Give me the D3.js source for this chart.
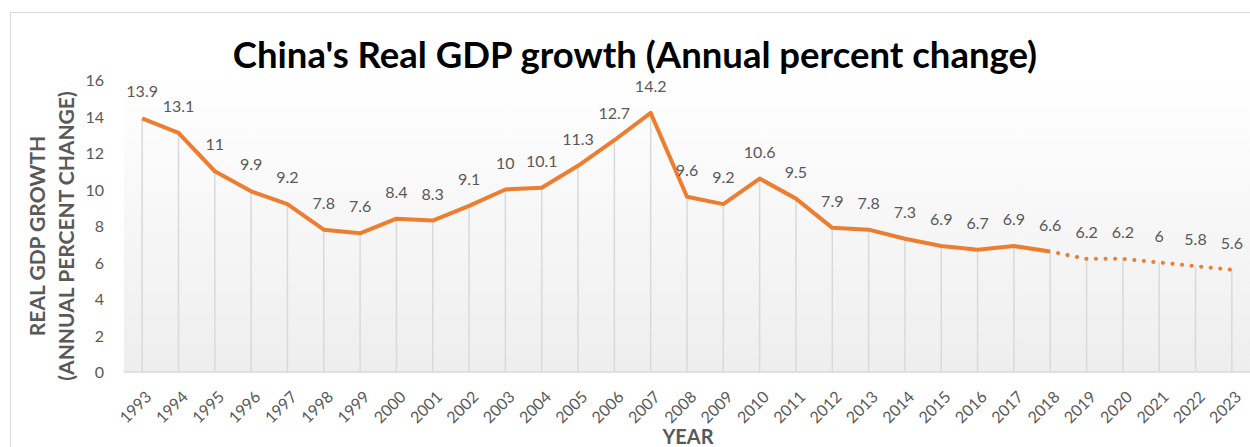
<!DOCTYPE html>
<html>
<head>
<meta charset="utf-8">
<script src="https://cdn.jsdelivr.net/npm/d3@7"></script>
<style>
  body { margin: 0; background: #fff; }
  text { font-family: Lato, "Open Sans", sans-serif; }
</style>
</head>
<body>
<script>
// data
var years = ["1993","1994","1995","1996","1997","1998","1999","2000","2001","2002",
             "2003","2004","2005","2006","2007","2008","2009","2010","2011","2012",
             "2013","2014","2015","2016","2017","2018","2019","2020","2021","2022","2023"];
var growth = [13.9, 13.1, 11, 9.9, 9.2, 7.8, 7.6, 8.4, 8.3, 9.1,
              10, 10.1, 11.3, 12.7, 14.2, 9.6, 9.2, 10.6, 9.5, 7.9,
              7.8, 7.3, 6.9, 6.7, 6.9, 6.6, 6.2, 6.2, 6, 5.8, 5.6];
var yTicks = [0, 2, 4, 6, 8, 10, 12, 14, 16];
var lastActual = "2018";   // after this the series is a forecast (dotted)

var width = 1250, height = 447;
var margin = {left: 124, right: 0, top: 80, bottom: 75};

var line_col = "#ed7d31",
    text_col = "#595959",
    grid_col = "#d9d9d9";

var svg = d3.select("body").append("svg")
    .attr("width", width)
    .attr("height", height);

// chart frame
svg.append("rect")
    .attr("x", 10.5).attr("y", 12.5)
    .attr("width", width + 20).attr("height", height + 20)
    .style("fill", "none")
    .style("stroke", "#d9d9d9")
    .style("stroke-width", 1);

var x = d3.scalePoint()
    .domain(years)
    .range([margin.left, width - margin.right])
    .padding(0.5);

var y = d3.scaleLinear()
    .domain([0, 16])
    .range([height - margin.bottom, margin.top]);

// plot area gradient
var grad = svg.append("defs").append("linearGradient")
    .attr("id", "bg").attr("x1", 0).attr("x2", 0).attr("y1", 0).attr("y2", 1);
grad.append("stop").attr("offset", "0%").attr("stop-color", "#ffffff");
grad.append("stop").attr("offset", "100%").attr("stop-color", "#eeeeee");

svg.append("rect")
    .attr("x", margin.left)
    .attr("y", y(16))
    .attr("width", width - margin.right - margin.left)
    .attr("height", y(0) - y(16))
    .style("fill", "url(#bg)");

var pts = years.map(function(d, i) { return {year: d, v: growth[i]}; });

// drop lines
svg.append("g").selectAll("line")
    .data(pts).enter().append("line")
    .attr("x1", function(d) { return x(d.year); })
    .attr("x2", function(d) { return x(d.year); })
    .attr("y1", function(d) { return y(d.v); })
    .attr("y2", y(0))
    .style("stroke", grid_col)
    .style("stroke-width", 1.5);

// baseline
svg.append("line")
    .attr("x1", margin.left).attr("x2", width - margin.right)
    .attr("y1", y(0)).attr("y2", y(0))
    .style("stroke", grid_col)
    .style("stroke-width", 1.5);

// y axis
var yAxis = svg.append("g")
    .attr("transform", "translate(" + (margin.left - 20) + ",0)")
    .call(d3.axisLeft(y).tickValues(yTicks).tickSize(0).tickPadding(0));
yAxis.select(".domain").remove();
yAxis.selectAll("text")
    .style("font-size", "16px")
    .style("fill", text_col)
    .attr("dy", "0.35em");

// x axis
var xAxis = svg.append("g")
    .attr("transform", "translate(0," + y(0) + ")")
    .call(d3.axisBottom(x).tickSize(0).tickPadding(0));
xAxis.select(".domain").remove();
xAxis.selectAll("text")
    .style("font-size", "16px")
    .style("fill", text_col)
    .attr("text-anchor", "end")
    .attr("dy", 0)
    .attr("transform", "translate(10,26) rotate(-45)");

// line, solid then dotted forecast
var cut = years.indexOf(lastActual);
var lineGen = d3.line()
    .x(function(d) { return x(d.year); })
    .y(function(d) { return y(d.v); });

svg.append("path")
    .datum(pts.slice(0, cut + 1))
    .attr("d", lineGen)
    .style("fill", "none")
    .style("stroke", line_col)
    .style("stroke-width", 4)
    .style("stroke-linejoin", "round");

svg.append("path")
    .datum(pts.slice(cut))
    .attr("d", lineGen)
    .style("fill", "none")
    .style("stroke", line_col)
    .style("stroke-width", 4)
    .style("stroke-linecap", "round")
    .style("stroke-dasharray", "0.1 9.5")
    .style("stroke-dashoffset", -8);

// data labels
svg.append("g").selectAll("text")
    .data(pts).enter().append("text")
    .attr("x", function(d) { return x(d.year); })
    .attr("y", function(d) { return y(d.v) - 21; })
    .attr("text-anchor", "middle")
    .style("font-size", "16px")
    .style("fill", text_col)
    .text(function(d) { return d.v; });

// title
svg.append("text")
    .attr("x", 635).attr("y", 68)
    .attr("text-anchor", "middle")
    .style("font-size", "36.5px")
    .style("font-weight", "bold")
    .style("fill", "#000")
    .text("China's Real GDP growth (Annual percent change)");

// axis titles
var yt = svg.append("text")
    .attr("transform", "translate(45," + ((y(0) + y(16)) / 2 + 10) + ") rotate(-90)")
    .attr("text-anchor", "middle")
    .style("font-size", "21px")
    .style("font-weight", "bold")
    .style("fill", text_col);
yt.append("tspan").attr("x", 0).attr("dy", 0).text("REAL GDP GROWTH");
yt.append("tspan").attr("x", 0).attr("dy", 29).text("(ANNUAL PERCENT CHANGE)");

svg.append("text")
    .attr("x", 688).attr("y", 444)
    .attr("text-anchor", "middle")
    .style("font-size", "20px")
    .style("font-weight", "bold")
    .style("fill", text_col)
    .text("YEAR");
</script>
</body>
</html>
